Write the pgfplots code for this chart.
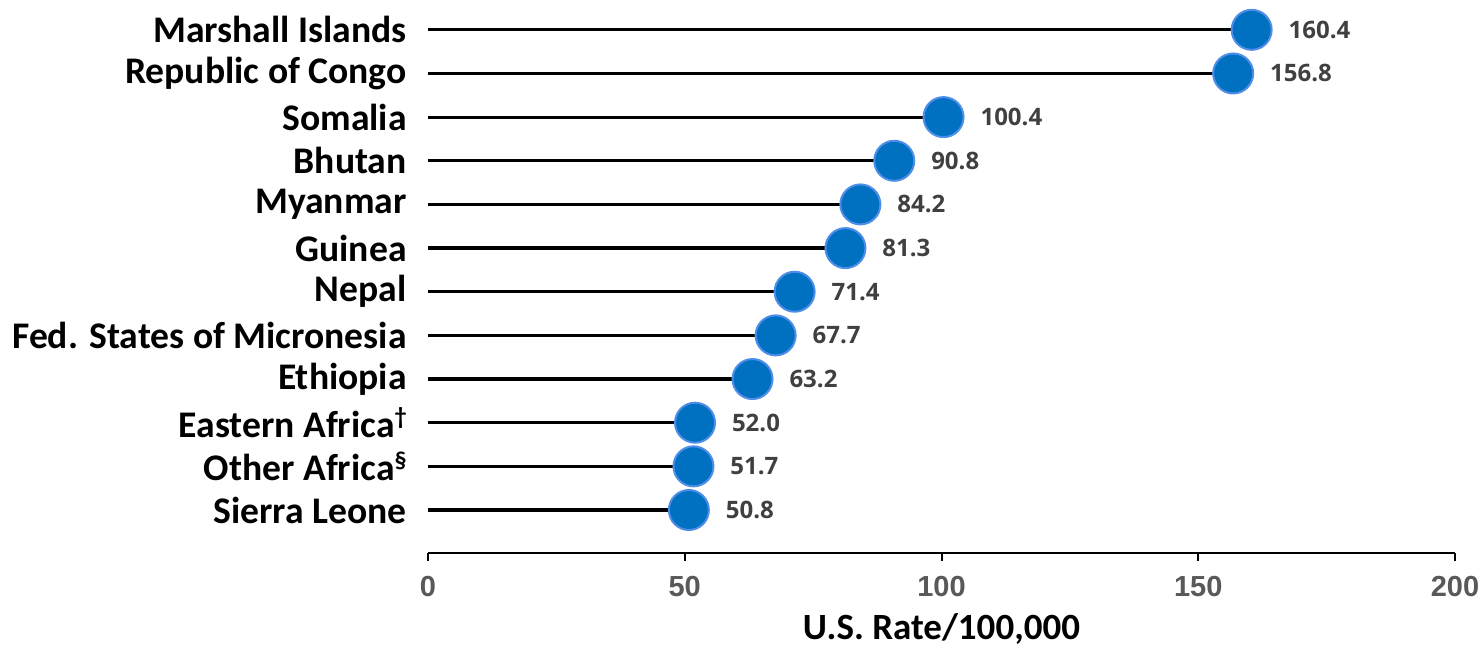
\documentclass[border=0pt]{standalone}
\usepackage{pgfplots}
\pgfplotsset{compat=1.18}
\usepackage{pgfplotstable}
\usepackage{fontspec}
\setmainfont{Carlito}
\newfontfamily\osans{Open Sans}
\newfontfamily\lsans{Liberation Sans}
\definecolor{dotblue}{HTML}{0070C0}
\definecolor{dotedge}{HTML}{4F8EE8}
\definecolor{lbl}{HTML}{404040}
\definecolor{tck}{HTML}{595959}
\newcommand{\supmark}[1]{\raisebox{0.7ex}{\fontsize{12}{12}\selectfont #1}}

\pgfplotstableread{
y x
0 50.8
1 51.7
2 52.0
3 63.2
4 67.7
5 71.4
6 81.3
7 84.2
8 90.8
9 100.4
10 156.8
11 160.4
}\data

\begin{document}
\begin{tikzpicture}
\useasboundingbox (-214pt,-49pt) rectangle (526.5pt,276.5pt);
\begin{axis}[
  at={(0,0)}, anchor=south west, scale only axis,
  width=513.5pt, height=272.5pt,
  xmin=0, xmax=200, ymin=-0.985, ymax=11.5,
  /pgf/number format/assume math mode=true,
  axis x line*=bottom, axis y line*=left,
  x axis line style={black, line width=1pt, -},
  y axis line style={draw=none},
  xtick={0,50,100,150,200},
  tick align=outside, major tick length=4pt,
  xtick style={black, line width=1pt},
  ytick style={draw=none},
  ytick={0,...,11},
  yticklabels={Sierra Leone, Other Africa\supmark{§}, Eastern Africa\supmark{†}, Ethiopia, Fed. States of Micronesia, Nepal, Guinea, Myanmar, Bhutan, Somalia, Republic of Congo, Marshall Islands},
  yticklabel style={font=\bfseries\fontsize{18.8}{20}\selectfont, anchor=east, inner sep=0pt, xshift=-6.5pt},
  xticklabel style={font=\lsans\bfseries\fontsize{14.5}{16}\selectfont, text=tck, anchor=north, inner sep=0pt, yshift=-7.5pt},
  xlabel={U.S. Rate/100,000},
  xlabel style={at={(rel axis cs:0.5,0)}, anchor=base, yshift=-43.5pt, inner sep=0pt, font=\bfseries\fontsize{18.5}{20}\selectfont},
  clip=false,
]
\addplot[xcomb, black, line width=1.6pt] table[x=x,y=y]{\data};
\addplot[only marks, mark=*, mark size=10pt,
  mark options={fill=dotblue, draw=dotedge, line width=1pt},
  point meta=x,
  nodes near coords={\pgfmathprintnumber[fixed,fixed zerofill,precision=1]{\pgfplotspointmeta}},
  nodes near coords style={anchor=west, xshift=18pt, inner sep=0pt, font=\osans\bfseries\fontsize{12}{14}\selectfont, text=lbl},
] table[x=x,y=y]{\data};
\end{axis}
\end{tikzpicture}
\end{document}
